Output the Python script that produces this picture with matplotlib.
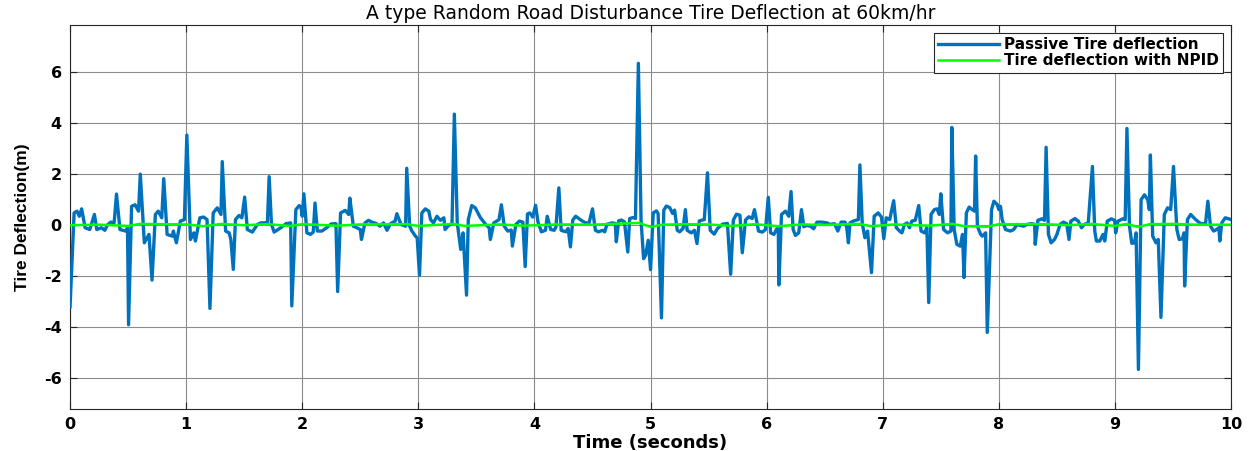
import matplotlib
matplotlib.use('Agg')
import matplotlib.pyplot as plt

plt.rcParams['axes.unicode_minus'] = False

# ---------------- data ----------------
# passive tire deflection (time [s], deflection)
t_passive = [0.00, 0.035, 0.06, 0.08, 0.10, 0.13, 0.17, 0.21, 0.23, 0.27, 0.30, 0.32, 0.35, 0.38, 0.40, 0.43, 0.48, 0.495, 0.504,
             0.53, 0.56, 0.59, 0.605, 0.64, 0.68, 0.706, 0.735, 0.76, 0.79, 0.807, 0.836, 0.88, 0.89, 0.916, 0.95, 0.985,
             1.006, 1.037, 1.066, 1.08, 1.118, 1.15, 1.18, 1.205, 1.233, 1.268, 1.30, 1.311, 1.34, 1.37, 1.385, 1.406,
             1.425, 1.455, 1.48, 1.504, 1.527, 1.57, 1.614, 1.643, 1.70, 1.715, 1.735, 1.758, 1.815, 1.86, 1.90, 1.91, 1.945,
             1.974, 1.99, 2.0, 2.014, 2.04, 2.07, 2.095, 2.11, 2.13, 2.17, 2.21, 2.25, 2.29, 2.305, 2.33, 2.37, 2.40,
             2.41, 2.44, 2.47, 2.50, 2.51, 2.54, 2.57, 2.60, 2.64, 2.67, 2.70, 2.73, 2.76, 2.80, 2.815, 2.85, 2.89, 2.90,
             2.925, 2.945, 2.975, 2.99, 3.01, 3.03, 3.06, 3.09, 3.105, 3.13, 3.16, 3.19, 3.22, 3.23, 3.26, 3.29, 3.31,
             3.335, 3.365, 3.385, 3.415, 3.43, 3.46, 3.49, 3.535, 3.58, 3.61, 3.62, 3.65, 3.695, 3.715, 3.74, 3.77, 3.80,
             3.81, 3.84, 3.87, 3.90, 3.92, 3.94, 3.96, 3.985, 4.01, 4.03, 4.06, 4.095, 4.11, 4.14, 4.17, 4.185, 4.21,
             4.23, 4.27, 4.29, 4.31, 4.33, 4.355, 4.40, 4.44, 4.47, 4.50, 4.525, 4.55, 4.588, 4.605, 4.625, 4.668, 4.696,
             4.705, 4.725, 4.75, 4.775, 4.804, 4.82, 4.85, 4.87, 4.895, 4.918, 4.94, 4.957, 4.98, 5.0, 5.023, 5.05, 5.065,
             5.094, 5.114, 5.136, 5.165, 5.19, 5.207, 5.23, 5.25, 5.28, 5.30, 5.315, 5.35, 5.378, 5.40, 5.42, 5.463, 5.49,
             5.514, 5.548, 5.577, 5.62, 5.662, 5.69, 5.713, 5.74, 5.77, 5.79, 5.818, 5.846, 5.875, 5.895, 5.93, 5.963,
             5.99, 6.014, 6.034, 6.063, 6.083, 6.10, 6.105, 6.128, 6.162, 6.19, 6.21, 6.228, 6.248, 6.276, 6.30, 6.32,
             6.348, 6.376, 6.405, 6.433, 6.476, 6.52, 6.547, 6.584, 6.613, 6.641, 6.675, 6.69, 6.704, 6.718, 6.746, 6.79,
             6.803, 6.823, 6.846, 6.869, 6.903, 6.926, 6.96, 6.989, 7.009, 7.03, 7.06, 7.094, 7.117, 7.145, 7.165, 7.187,
             7.21, 7.23, 7.25, 7.28, 7.31, 7.33, 7.36, 7.38, 7.396, 7.416, 7.444, 7.467, 7.487, 7.50, 7.524, 7.558, 7.587,
             7.595, 7.615, 7.638, 7.667, 7.687, 7.70, 7.72, 7.744, 7.77, 7.79, 7.80, 7.815, 7.843, 7.857, 7.886, 7.90, 7.937,
             7.957, 7.986, 8.0, 8.014, 8.028, 8.057, 8.10, 8.128, 8.157, 8.185, 8.214, 8.242, 8.285, 8.308, 8.313, 8.336,
             8.37, 8.393, 8.407, 8.427, 8.45, 8.479, 8.50, 8.527, 8.556, 8.584, 8.604, 8.62, 8.655, 8.684, 8.712, 8.735,
             8.77, 8.806, 8.826, 8.84, 8.869, 8.897, 8.912, 8.934, 8.969, 8.997, 9.006, 9.026, 9.068, 9.088, 9.103, 9.125,
             9.145, 9.168, 9.182, 9.202, 9.225, 9.254, 9.282, 9.296, 9.305, 9.325, 9.353, 9.373, 9.396, 9.425, 9.453,
             9.48, 9.504, 9.533, 9.553, 9.58, 9.595, 9.60, 9.624, 9.652, 9.695, 9.738, 9.78, 9.80, 9.823, 9.85, 9.875,
             9.895, 9.903, 9.92, 9.95, 9.977, 10.0]
y_passive = [-3.2, 0.48, 0.55, 0.35, 0.64, -0.10, -0.17, 0.42, -0.17, -0.10, -0.20, 0.0, 0.12, 0.10, 1.22, -0.17, -0.23, -0.10, -3.9,
             0.74, 0.80, 0.55, 2.0, -0.69, -0.36, -2.15, 0.42, 0.55, 0.29, 1.82, -0.36, -0.43, -0.23, -0.69, 0.16, 0.22,
             3.53, -0.56, -0.30, -0.62, 0.29, 0.32, 0.22, -3.26, 0.48, 0.68, 0.42, 2.49, -0.23, -0.30, -0.56, -1.73,
             0.22, 0.38, 0.29, 1.10, -0.17, -0.27, 0.03, 0.09, 0.10, 1.90, 0.03, -0.27, -0.10, 0.06, 0.09, -3.16, 0.61,
             0.77, 0.68, 0.35, 1.23, -0.30, -0.36, -0.27, 0.87, -0.23, -0.23, -0.10, 0.05, 0.06, -2.6, 0.48, 0.58, 0.42,
             1.06, -0.04, -0.10, -0.17, -0.56, 0.09, 0.19, 0.12, 0.06, -0.04, 0.09, -0.20, 0.06, 0.16, 0.45, 0.03, -0.04, 2.23,
             -0.04, -0.23, -0.43, -0.50, -1.96, 0.48, 0.64, 0.55, 0.22, 0.09, 0.35, 0.19, 0.29, -0.17, -0.01, 0.06, 4.35,
             0.09, -0.95, -0.30, -2.74, 0.22, 0.77, 0.68, 0.29, 0.03, -0.10, -0.56, 0.09, 0.22, 0.80, -0.04, -0.23, -0.19,
             -0.82, 0.03, 0.16, 0.12, -1.62, 0.44, 0.48, 0.32, 0.78, 0.13, -0.26, -0.20, 0.35, -0.17, -0.20, -0.07, 1.46,
             -0.20, -0.26, -0.13, -0.85, 0.20, 0.35, 0.20, 0.09, 0.09, 0.64, -0.20, -0.26, -0.20, -0.26, 0.04, 0.09, 0.07,
             -0.65, 0.17, 0.20, 0.13, -1.05, 0.26, 0.30, 0.26, 6.34, 0.20, -1.31, -1.18, -0.59, -1.74, 0.48, 0.56, 0.46,
             -3.63, 0.59, 0.75, 0.69, 0.46, 0.59, -0.20, -0.26, -0.13, 0.61, -0.20, -0.30, -0.20, -0.72, 0.17, 0.22, 2.05,
             -0.20, -0.35, -0.13, 0.04, 0.07, -1.92, 0.20, 0.43, 0.39, -1.08, 0.20, 0.33, 0.26, 0.61, -0.23, -0.27,
             -0.17, 1.09, -0.30, -0.36, -0.17, -0.10, -2.34, 0.42, 0.55, 0.35, 1.32, -0.17, -0.40, -0.30, 0.61, -0.06,
             -0.01, -0.04, -0.14, 0.12, 0.12, 0.09, 0.03, 0.06, -0.23, 0.12, 0.12, -0.10, -0.69, 0.09, 0.16, 0.22,
             2.36, 0.09, -0.49, -0.23, -1.86, 0.35, 0.48, 0.32, -0.53, 0.29, 0.22, 0.96, -0.10, -0.23, -0.30, 0.03,
             0.09, -0.10, 0.16, 0.19, 0.77, -0.23, -0.30, -0.10, -3.03, 0.42, 0.61, 0.64, 0.42, 1.23, -0.17, -0.30, -0.23,
             3.83, -0.17, -0.75, -0.82, -0.36, -2.05, 0.48, 0.71, 0.61, 0.55, 2.71, -0.04, -0.36, -0.43, -0.30, -4.2, 0.61,
             0.94, 0.81, 0.61, 0.74, 0.22, -0.17, -0.23, -0.17, 0.03, -0.01, -0.04, 0.03, 0.06, 0.03, -0.75, 0.19,
             0.25, 0.19, 3.05, -0.36, -0.69, -0.56, -0.36, 0.03, 0.12, 0.06, -0.56, 0.16, 0.26, 0.16, -0.10, 0.03,
             0.09, 2.30, -0.23, -0.62, -0.62, -0.36, -0.62, 0.16, 0.25, 0.19, -0.30, 0.16, 0.25, 0.22, 3.79, -0.04,
             -0.71, -0.69, -0.30, -5.65, 1.00, 1.19, 1.0, 0.61, 2.75, -0.43, -0.69, -0.56, -3.61, 0.42, 0.68,
             0.61, 2.30, -0.17, -0.56, -0.53, -0.30, -2.38, 0.22, 0.42, 0.22, 0.06, 0.06, 0.94, -0.04, -0.23, -0.17,
             -0.10, -0.62, 0.09, 0.29, 0.25, 0.22]

# tire deflection with NPID controller (stays close to zero)
t_npid = [0.0, 0.25, 0.5, 0.6, 0.8, 1.0, 1.15, 1.3, 1.5, 1.7, 1.9, 2.0, 2.3, 2.5, 2.9, 3.0, 3.3, 3.4, 3.7, 3.9,
          4.2, 4.5, 4.9, 5.0, 5.1, 5.3, 5.5, 5.7, 5.9, 6.1, 6.3, 6.5, 6.8, 6.9, 7.1, 7.4, 7.6, 7.7, 7.9, 8.0,
          8.4, 8.6, 8.8, 9.0, 9.1, 9.2, 9.3, 9.5, 9.7, 10.0]
y_npid = [0.0, 0.02, -0.03, 0.05, 0.04, 0.03, -0.04, 0.05, 0.0, 0.04, -0.03, 0.04, -0.02, 0.03, 0.04, -0.03, 0.05, -0.03, 0.03, -0.02,
          0.03, 0.02, 0.09, -0.07, 0.02, 0.04, 0.03, -0.03, 0.04, -0.04, 0.03, 0.01, 0.05, -0.04, 0.03, -0.02, 0.05, -0.04, -0.06, 0.04,
          0.04, 0.0, 0.05, -0.03, 0.05, -0.07, 0.04, 0.05, 0.02, 0.02]

xticks = [0, 1, 2, 3, 4, 5, 6, 7, 8, 9, 10]
yticks = [-6, -4, -2, 0, 2, 4, 6]

# ---------------- plot ----------------
fig = plt.figure(figsize=(12.53, 4.51), dpi=100)
ax = fig.add_axes([0.0559, 0.0931, 0.9266, 0.8514])

ax.plot(t_passive, y_passive, color='#0072BD', lw=2.4, label='Passive Tire deflection', zorder=3)
ax.plot(t_npid, y_npid, color='#00FF00', lw=1.8, label='Tire deflection with NPID', zorder=4)

ax.set_xlim(0, 10)
ax.set_ylim(-7.2, 7.84)
ax.set_xticks(xticks)
ax.set_yticks(yticks)
ax.grid(True, color='#8c8c8c', lw=0.8)
ax.set_axisbelow(True)
ax.tick_params(direction='in', length=5, width=0.8, top=True, right=True, color='#262626',
               labelsize=11.5, pad=6)
for lab in ax.get_xticklabels() + ax.get_yticklabels():
    lab.set_fontweight('bold')
    lab.set_family('DejaVu Sans')
for s in ax.spines.values():
    s.set_color('#262626')
    s.set_linewidth(0.8)

ax.set_title('A type Random Road Disturbance Tire Deflection at 60km/hr', fontsize=13.5,
             family='DejaVu Sans', pad=4)
ax.set_xlabel('Time (seconds)', fontsize=13, fontweight='bold', family='DejaVu Sans', labelpad=1)
ax.set_ylabel('Tire Deflection(m)', fontsize=12.5, fontweight='bold',
              family=['Liberation Sans Narrow', 'Liberation Sans'], labelpad=10)

leg = ax.legend(loc='upper right', prop={'weight': 'bold', 'family': 'DejaVu Sans', 'size': 11},
                fancybox=False, edgecolor='#262626', framealpha=1, borderpad=0.3,
                labelspacing=0.05, handlelength=4.0, handletextpad=0.3, borderaxespad=0.5)
leg.get_frame().set_linewidth(0.8)

fig.savefig('out.png', dpi=100)
